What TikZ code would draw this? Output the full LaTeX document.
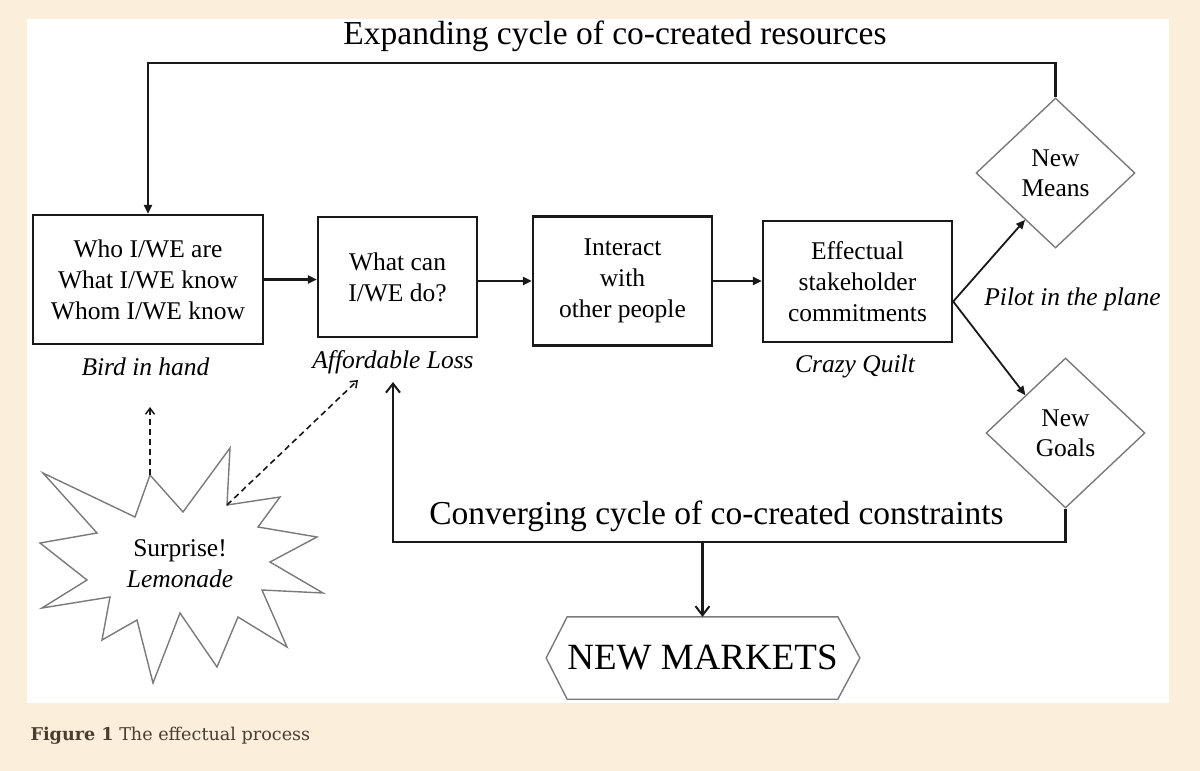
\documentclass[tikz,border=0pt]{standalone}
\usepackage{fontspec}
\setmainfont{Liberation Serif}
\newfontfamily\capfont{DejaVu Serif}
\usetikzlibrary{arrows.meta,shapes.geometric}
\definecolor{pagebg}{HTML}{FBEFDB}
\definecolor{capcol}{HTML}{4A3D30}
\definecolor{shapegray}{HTML}{7A7A7A}

\begin{document}
\begin{tikzpicture}[x=1pt,y=-1pt,
  box/.style={draw=black!90, line width=2.4pt, align=center, inner sep=0pt, font=\fontsize{25.5}{31}\selectfont},
  choice/.style={diamond, draw=shapegray, line width=1.4pt, align=center, inner sep=0pt, minimum width=159pt, minimum height=150pt, font=\fontsize{25.5}{30}\selectfont},
  outline/.style={draw=shapegray, line width=1.4pt},
  tag/.style={anchor=base, font=\fontsize{25.5}{31}\selectfont\itshape},
  big/.style={anchor=base, font=\fontsize{33.5}{40}\selectfont},
  flow/.style={draw=black!90, line width=2.2pt, -{Triangle[length=9pt,width=8pt]}},
  loopline/.style={draw=black!90, line width=2.4pt, -{Straight Barb[length=9pt,width=14pt,line width=2pt]}},
  hunch/.style={draw=black!90, line width=1.6pt, dash pattern=on 6pt off 4pt, -{Straight Barb[length=6pt,width=9pt,line width=1.5pt]}}]

  % Page and panel
  \useasboundingbox (0,0) rectangle (1200,771);
  \fill[pagebg] (0,0) rectangle (1200,771);
  \fill[white] (27,19) rectangle (1169,703);

  % Main boxes
  \node[box, minimum width=230pt, minimum height=129pt] (who) at (148,279.5) {Who I/WE are\\What I/WE know\\Whom I/WE know};
  \node[box, minimum width=159pt, minimum height=120pt] (cando) at (397.5,277) {What can\\I/WE do?};
  \node[box, minimum width=179pt, minimum height=129pt] (interact) at (622.5,281) {Interact\\with\\other people};
  \node[box, minimum width=189pt, minimum height=121pt] (commit) at (857.5,281.5) {Effectual\\stakeholder\\commitments};

  % Outcomes
  \node[choice] (means) at (1055.5,173) {New\\Means};
  \node[choice] (goals) at (1065.5,433) {New\\Goals};

  % Principle labels
  \node[tag] (bird) at (145.5,375) {Bird in hand};
  \node[tag] (loss) at (393,368) {Affordable Loss};
  \node[tag] (quilt) at (855,372) {Crazy Quilt};
  \node[tag] (pilot) at (1072.5,305) {Pilot in the plane};

  % Cycle titles
  \node[big] (expand) at (615,45) {Expanding cycle of co-created resources};
  \node[big] (converge) at (716.5,524) {Converging cycle of co-created constraints};

  % New markets hexagon
  \node[minimum width=265pt, minimum height=82pt, inner sep=0pt, font=\fontsize{37}{44}\selectfont] (markets) at (702.5,658) {NEW MARKETS};
  \draw[outline] (markets.north west) -- (markets.north east) -- ([xshift=22pt]markets.east)
    -- (markets.south east) -- (markets.south west) -- ([xshift=-21pt]markets.west) -- cycle;

  % Surprise starburst
  \draw[outline, line join=miter] (43,473) -- (135,517) -- (150,475) -- (183,512) -- (230,448)
    -- (227,505) -- (280,497) -- (258,527) -- (317,537) -- (270,562) -- (323,593)
    -- (262,590) -- (287,647) -- (238,617) -- (217,667) -- (180,613) -- (153,683)
    -- (137,620) -- (102,640) -- (110,597) -- (42,608) -- (87,580) -- (40,543)
    -- (97,533) -- cycle;
  \node[align=center, font=\fontsize{25.5}{31}\selectfont] (surprise) at (180,564) {Surprise!\\\textit{Lemonade}};

  % Helper points
  \coordinate (startop) at (150,475);
  \coordinate (starnotch) at (227,505);
  \coordinate (birdtip) at (150,407);
  \coordinate (losstip) at (358,380);
  \coordinate (upleft) at (148,63);
  \coordinate (upright) at (1055.5,63);
  \coordinate (downright) at (1065.5,542);
  \coordinate (downleft) at (393,542);
  \coordinate (upend) at (393,382);
  \coordinate (split) at (702.5,542);

  % Process arrows
  \draw[flow] (who.east) -- (who.east -| cando.west);
  \draw[flow] (interact.west -| cando.east) -- (interact.west);
  \draw[flow] (interact.east) -- (interact.east -| commit.west);
  \draw[flow, line width=1.8pt] ([yshift=-20pt]commit.east) -- (means.237);
  \draw[flow, line width=1.8pt] ([yshift=-20pt]commit.east) -- (goals.north west);

  % Expanding cycle
  \draw[flow, line width=2.4pt] (means.north) -- (upright) -- (upleft) -- (who.north);

  % Converging cycle
  \draw[loopline] (goals.south) -- (downright) -- (downleft) -- (upend);
  \draw[loopline] (split) -- (markets.north);

  % Surprise links
  \draw[hunch] (startop) -- (birdtip);
  \draw[hunch] (starnotch) -- (losstip);

  % Caption
  \node[anchor=base west, text=capcol, font=\capfont\fontsize{17.6}{20}\selectfont] (caption) at (27,740) {\textbf{Figure 1} The effectual process};
\end{tikzpicture}
\end{document}
